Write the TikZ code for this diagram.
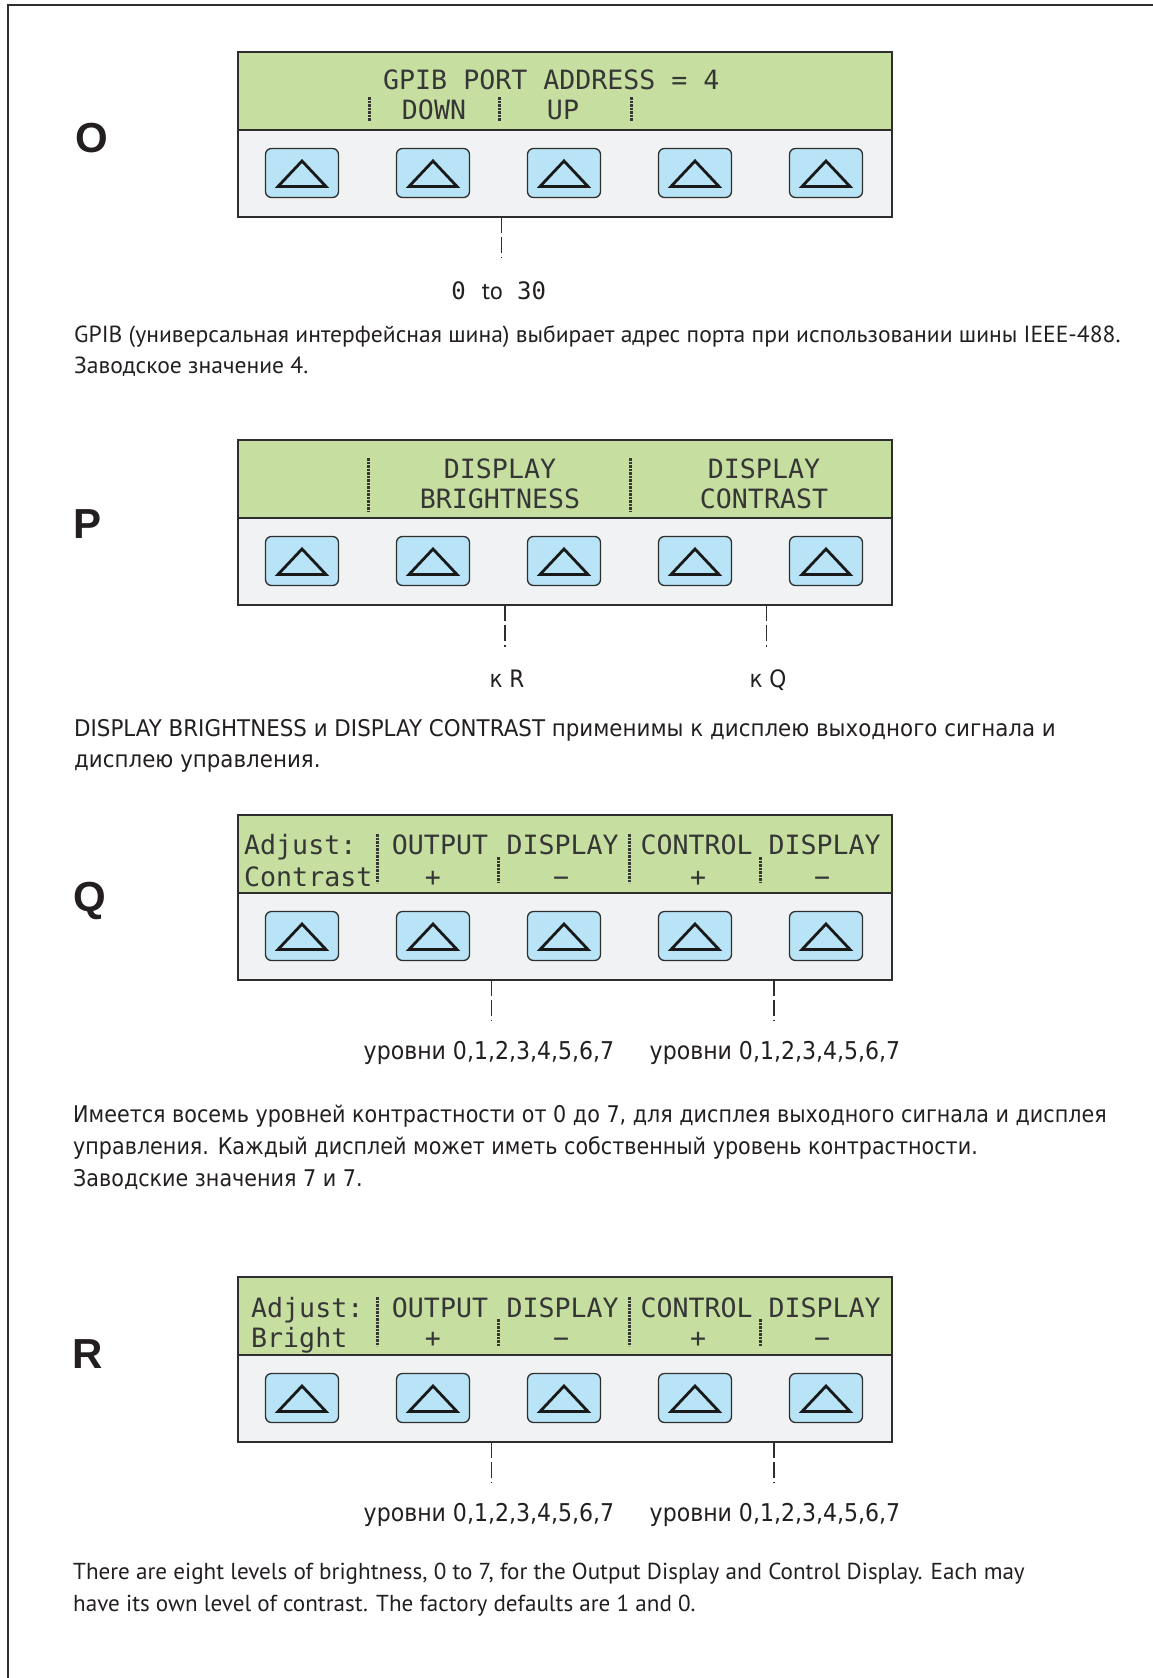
\documentclass[tikz,border=0pt]{standalone}
\usepackage{fontspec}
\usetikzlibrary{calc}
\setmainfont{PT Sans}
\newfontfamily\myr{PT Sans}
\newfontfamily\myrw[FakeStretch=1.012]{PT Sans}
\newfontfamily\tah[FakeStretch=0.9]{DejaVu Sans}
\newfontfamily\tahw[FakeStretch=0.93]{DejaVu Sans}
\newfontfamily\lcdf{DejaVu Sans Mono}
\newfontfamily\hel{Liberation Sans}
\definecolor{lcdgreen}{HTML}{C6DFA0}
\definecolor{panelgrey}{HTML}{F1F2F4}
\definecolor{btnblue}{HTML}{B9E4F7}
\definecolor{bordc}{HTML}{2E2E2E}
\definecolor{lcdtext}{HTML}{363636}
\definecolor{txtc}{HTML}{231F20}
\tikzset{
  pline/.style={draw=bordc, line width=2pt},
  panelbox/.style={draw=bordc, line width=2pt, fill=panelgrey, minimum width=654pt, minimum height=164.5pt, inner sep=0pt, outer sep=0pt},
  btn/.style={draw=bordc, line width=1.3pt, fill=btnblue, rounded corners=6pt, minimum width=73pt, minimum height=49pt, inner sep=0pt, outer sep=0pt},
  tri/.style={draw=black!90, line width=2.8pt, line join=miter},
  lcd/.style={font=\lcdf\fontsize{26.6}{26.6}\selectfont, text=lcdtext, inner sep=0pt, text height=19pt, text depth=0pt},
  divl/.style={draw=lcdtext, line width=3pt, dash pattern=on 2.6pt off 0.9pt},
  conn/.style={draw=bordc, line width=1.4pt, dash pattern=on 16pt off 4pt},
  bodyM/.style={font=\myr\fontsize{23.1}{28}\selectfont, text=txtc, inner sep=0pt, anchor=base west},
  bodyO/.style={font=\myrw\fontsize{23.3}{28}\selectfont, text=txtc, inner sep=0pt, anchor=base west},
  bodyT/.style={font=\tah\fontsize{23}{28}\selectfont, text=txtc, inner sep=0pt, anchor=base west},
  bodyP/.style={font=\tahw\fontsize{23}{28}\selectfont, text=txtc, inner sep=0pt, anchor=base west},
  lvl/.style={font=\tah\fontsize{24.5}{28}\selectfont, text=txtc, inner sep=0pt, anchor=base},
  kto/.style={font=\tah\fontsize{24}{28}\selectfont, text=txtc, inner sep=0pt, anchor=base},
  plabel/.style={font=\hel\bfseries\fontsize{42}{42}\selectfont, text=txtc, inner sep=0pt, anchor=base},
}
\newcommand\mypanel[2]{%
  \node[panelbox, anchor=north west] (#1) at (237.5,#2) {};
  \fill[lcdgreen] (#1.north west) rectangle ([yshift=-77.5pt]#1.north east);
  \draw[pline] (#1.north west) rectangle (#1.south east);
  \draw[pline] ([yshift=-77.5pt]#1.north west) -- ([yshift=-77.5pt]#1.north east);
  \foreach \i in {0,...,4} {
    \node[btn] (#1b\i) at ({302+131*\i},{#2+121}) {};
    \draw[tri] ([shift={(-24,13.5)}]#1b\i.center) -- ([shift={(0,-12)}]#1b\i.center) -- ([shift={(24,13.5)}]#1b\i.center) -- cycle;
  }
}
\begin{document}
\begin{tikzpicture}[x=1pt,y=-1pt]
\useasboundingbox (0,0) rectangle (1153,1678);
\fill[white] (0,0) rectangle (1153,1678);
% frame
\draw[draw=bordc, line width=2pt] (1153,5) -- (7.5,5) -- (7.5,1678);

% ---------------- O ----------------
\node[plabel] (labO) at (91.5,152) {O};
\mypanel{pO}{52}
\node[lcd, anchor=west] (oL1) at (383,80) {GPIB PORT ADDRESS = 4};
\node[lcd] (oDown) at (434,110) {DOWN};
\node[lcd] (oUp) at (563,110) {UP};
\draw[divl] (369,97) -- (369,121);
\draw[divl] (499,97) -- (499,121);
\draw[divl] (631,97) -- (631,121);
\coordinate (cO) at (501.7,258);
\draw[conn] (cO |- pO.south) -- (cO);
\node[anchor=base, inner sep=0pt, text=txtc] (lO) at (498.7,299) {{\lcdf\fontsize{24}{24}\selectfont 0}\hspace{16pt}{\myr\fontsize{24.5}{24}\selectfont to}\hspace{14pt}{\lcdf\fontsize{24}{24}\selectfont 30}};
\node[bodyO] (tO1) at (74,342) {GPIB (универсальная интерфейсная шина) выбирает адрес порта при использовании шины IEEE-488.};
\node[bodyO] (tO2) at (74,373) {Заводское значение 4.};

% ---------------- P ----------------
\node[plabel] (labP) at (88,538) {P};
\mypanel{pP}{440}
\node[lcd] (pD1) at (500,469) {DISPLAY};
\node[lcd] (pB) at (500,499) {BRIGHTNESS};
\node[lcd] (pD2) at (764,469) {DISPLAY};
\node[lcd] (pC) at (764,499) {CONTRAST};
\draw[divl] (368,458) -- (368,511);
\draw[divl] (630.5,458) -- (630.5,511);
\coordinate (cP1) at (505,647);
\coordinate (cP2) at (766.7,647);
\draw[conn] (cP1 |- pP.south) -- (cP1);
\draw[conn] (cP2 |- pP.south) -- (cP2);
\node[kto] (lP1) at (507,687) {к R};
\node[kto] (lP2) at (768,687) {к Q};
\node[bodyP] (tP1) at (74,736) {DISPLAY BRIGHTNESS и DISPLAY CONTRAST применимы к дисплею выходного сигнала и};
\node[bodyP] (tP2) at (74,767) {дисплею управления.};

% ---------------- Q ----------------
\node[plabel] (labQ) at (90,911) {Q};
\mypanel{pQ}{815}
\node[lcd, anchor=west] (qA) at (244,845) {Adjust:};
\node[lcd, anchor=west] (qC) at (244,877) {Contrast};
\node[lcd] (qO) at (440,845) {OUTPUT};
\node[lcd] (qP1) at (433,877) {+};
\node[lcd] (qD1) at (562.7,845) {DISPLAY};
\node[lcd] (qM1) at (561,877) {−};
\node[lcd] (qCo) at (696.6,845) {CONTROL};
\node[lcd] (qP2) at (698,877) {+};
\node[lcd] (qD2) at (824.7,845) {DISPLAY};
\node[lcd] (qM2) at (822,877) {−};
\draw[divl] (377.4,834) -- (377.4,883);
\draw[divl] (498,857) -- (498,883);
\draw[divl] (629.6,834) -- (629.6,883);
\draw[divl] (760,857) -- (760,883);
\coordinate (cQ1) at (491.5,1020);
\coordinate (cQ2) at (774,1020);
\draw[conn] (cQ1 |- pQ.south) -- (cQ1);
\draw[conn] (cQ2 |- pQ.south) -- (cQ2);
\node[lvl] (lQ1) at (489,1059) {уровни 0,1,2,3,4,5,6,7};
\node[lvl] (lQ2) at (775,1059) {уровни 0,1,2,3,4,5,6,7};
\node[bodyT] (tQ1) at (73,1122.5) {Имеется восемь уровней контрастности от 0 до 7, для дисплея выходного сигнала и дисплея};
\node[bodyT] (tQ2) at (73,1154.5) {управления. Каждый дисплей может иметь собственный уровень контрастности.};
\node[bodyT] (tQ3) at (73,1186.5) {Заводские значения 7 и 7.};

% ---------------- R ----------------
\node[plabel] (labR) at (88,1368) {R};
\mypanel{pR}{1277}
\node[lcd, anchor=west] (rA) at (251,1308) {Adjust:};
\node[lcd, anchor=west] (rB) at (251,1338) {Bright};
\node[lcd] (rO) at (440,1308) {OUTPUT};
\node[lcd] (rP1) at (433,1338) {+};
\node[lcd] (rD1) at (562.7,1308) {DISPLAY};
\node[lcd] (rM1) at (561,1338) {−};
\node[lcd] (rCo) at (696.6,1308) {CONTROL};
\node[lcd] (rP2) at (698,1338) {+};
\node[lcd] (rD2) at (824.7,1308) {DISPLAY};
\node[lcd] (rM2) at (822,1338) {−};
\draw[divl] (377.4,1297) -- (377.4,1346);
\draw[divl] (498,1319) -- (498,1346);
\draw[divl] (629.6,1297) -- (629.6,1346);
\draw[divl] (760,1319) -- (760,1346);
\coordinate (cR1) at (491.5,1483);
\coordinate (cR2) at (774,1483);
\draw[conn] (cR1 |- pR.south) -- (cR1);
\draw[conn] (cR2 |- pR.south) -- (cR2);
\node[lvl] (lR1) at (489,1521.5) {уровни 0,1,2,3,4,5,6,7};
\node[lvl] (lR2) at (775,1521.5) {уровни 0,1,2,3,4,5,6,7};
\node[bodyM] (tR1) at (73,1579) {There are eight levels of brightness, 0 to 7, for the Output Display and Control Display. Each may};
\node[bodyM] (tR2) at (73,1611) {have its own level of contrast. The factory defaults are 1 and 0.};
\end{tikzpicture}
\end{document}
